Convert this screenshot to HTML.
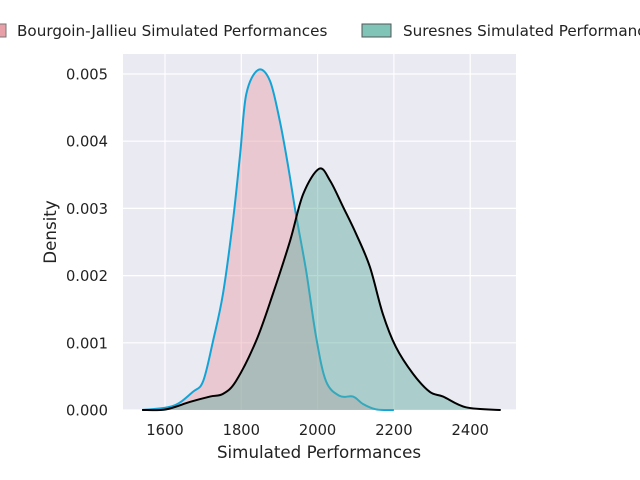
<!DOCTYPE html>
<html><head><meta charset="utf-8"><style>
body{margin:0;background:#fff;font-family:"DejaVu Sans","Liberation Sans",sans-serif}
svg{display:block}
text{font-family:"DejaVu Sans","Liberation Sans",sans-serif}
</style></head><body>
<svg id="c" width="640" height="480" xmlns="http://www.w3.org/2000/svg">
<rect x="123" y="54" width="393" height="356" fill="#eaeaf2"/>
<g id="grid"></g><g id="marks"></g><g id="axes"></g>
<g>
 <rect x="-12" y="24" width="18" height="13" fill="#e8a0a8" stroke="#777"/>
 <text x="17" y="36" font-size="15.2" fill="#222">Bourgoin-Jallieu Simulated Performances</text>
 <rect x="362" y="24" width="29" height="13" fill="#80c4b7" stroke="#555"/>
 <text x="403" y="36" font-size="15.2" fill="#222">Suresnes Simulated Performances</text>
</g>
<text x="319" y="458" font-size="16.7" fill="#222" text-anchor="middle">Simulated Performances</text>
<text transform="translate(56,232) rotate(-90)" font-size="16.7" fill="#222" text-anchor="middle">Density</text>
</svg>
<script>
const xTicks=[1600,1800,2000,2200,2400];
const yTicks=[0,0.001,0.002,0.003,0.004,0.005];
const yTickLabels=["0.000","0.001","0.002","0.003","0.004","0.005"];
const bourgoinX=[1540,1621,1673,1700,1726,1752,1778,1797,1813,1844,1875,1901,1923,1943,1970,1996,2022,2058,2093,2119,2153,2200];
const bourgoinY=[0,0.00006,0.00027,0.00043,0.00103,0.00173,0.00281,0.00381,0.0047,0.00506,0.0049,0.0043,0.00362,0.00292,0.00207,0.00109,0.00043,0.00021,0.0002,0.00009,0.00001,0];
const suresnesX=[1540,1603,1665,1718,1752,1786,1839,1883,1928,1962,2004,2033,2067,2101,2137,2171,2205,2250,2294,2329,2389,2480];
const suresnesY=[0,0.00001,0.00012,0.0002,0.00024,0.00043,0.00103,0.00173,0.00252,0.00321,0.00359,0.00341,0.00302,0.00262,0.00213,0.00143,0.00094,0.00054,0.00027,0.0002,0.00004,0];
const sx=v=>165+(v-1600)*0.3815, sy=d=>410-d*67200;
const NS="http://www.w3.org/2000/svg";
function mk(t,a,p){const e=document.createElementNS(NS,t);for(const k in a)e.setAttribute(k,a[k]);p.appendChild(e);return e;}
const grid=document.getElementById('grid'),axes=document.getElementById('axes'),marks=document.getElementById('marks');
xTicks.forEach(v=>{const l=mk('line',{x1:sx(v),x2:sx(v),y1:54,y2:410,stroke:'#fff','stroke-width':1.2},grid);


const t=mk('text',{x:sx(v),y:435,'font-size':14.7,fill:'#222','text-anchor':'middle'},axes);t.textContent=v;

});
yTicks.forEach((v,i)=>{const l=mk('line',{x1:123,x2:516,y1:sy(v),y2:sy(v),stroke:'#fff','stroke-width':1.2},grid);


const t=mk('text',{x:108,y:sy(v)+5.5,'font-size':14.7,fill:'#222','text-anchor':'end'},axes);t.textContent=yTickLabels[i];

});
function smooth(xs,ys){const P=xs.map((x,i)=>[sx(x),sy(ys[i])]);let d='M'+P[0][0]+','+P[0][1];
for(let i=0;i<P.length-1;i++){const p0=P[i-1]||P[i],p1=P[i],p2=P[i+1],p3=P[i+2]||p2;
d+=' C'+(p1[0]+(p2[0]-p0[0])/6)+','+(p1[1]+(p2[1]-p0[1])/6)+' '+(p2[0]-(p3[0]-p1[0])/6)+','+(p2[1]-(p3[1]-p1[1])/6)+' '+p2[0]+','+p2[1];}return d;}
function series(xs,ys,fill,op,stroke,name){const d=smooth(xs,ys);
const f=mk('path',{d:d+' L'+sx(xs[xs.length-1])+','+sy(0)+' L'+sx(xs[0])+','+sy(0)+'Z',fill:fill,'fill-opacity':op},marks);


const l=mk('path',{d:d,fill:'none',stroke:stroke,'stroke-width':2},marks);

}
series(bourgoinX,bourgoinY,'#e8a0a8',0.45,'#12a4d6','bourgoin');
series(suresnesX,suresnesY,'#5fae9e',0.45,'#000','suresnes');
</script>
</body></html>
